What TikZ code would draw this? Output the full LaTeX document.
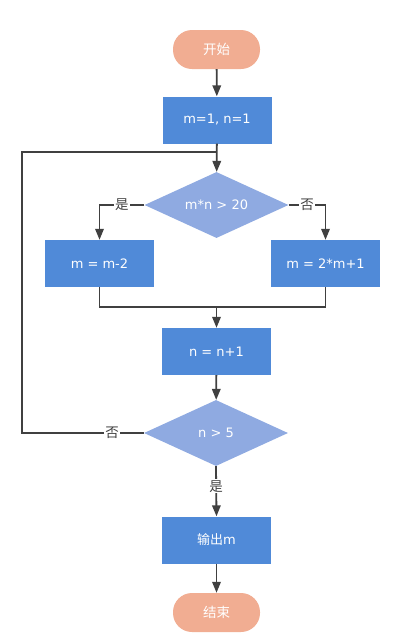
\documentclass[tikz,border=0pt]{standalone}
\usepackage{fontspec}
\setmainfont{DejaVu Sans}
\newfontfamily\cjk{Noto Sans CJK SC}
\usetikzlibrary{shapes.geometric, arrows.meta}
\definecolor{termc}{RGB}{241,173,146}
\definecolor{procc}{RGB}{80,138,216}
\definecolor{condc}{RGB}{143,170,225}
\definecolor{linec}{RGB}{64,64,64}
\tikzset{
  proc/.style={rectangle, fill=procc, text=white, minimum width=109pt, minimum height=47pt, inner sep=0pt},
  term/.style={rectangle, rounded corners=19pt, fill=termc, text=white, minimum width=87pt, minimum height=39pt, inner sep=0pt, font=\cjk\fontsize{13.5}{15}\selectfont},
  cond/.style={diamond, aspect=2.2, fill=condc, text=white, minimum width=144pt, minimum height=66pt, inner sep=0pt},
  lbl/.style={fill=white, text=linec, inner sep=1pt, font=\cjk\fontsize{13.5}{15}\selectfont},
  wire/.style={draw=linec, line width=1.8pt},
  arr/.style={wire, -{Triangle[length=11pt,width=8.5pt]}}
}
\begin{document}
\begin{tikzpicture}[x=1pt, y=-1pt, font=\fontsize{13}{15}\selectfont]
\useasboundingbox (0,0) rectangle (400,641);
% start / end
\node[term] (start) at (216.5,49.5) {开始};
\node[term] (stop) at (216.5,612.5) {结束};
% process boxes
\foreach \n/\x/\y/\t in {init/217/120/{m=1, n=1}, left/99.5/263.5/{m = m-2},
  right/325.5/263.5/{m = 2*m+1}, inc/216.5/351.5/{n = n+1}, out/216.5/540/{{\cjk 输出}m}} {
  \node[proc] (\n) at (\x,\y) {\t};
}
% decisions
\node[cond] (test1) at (216.5,205) {m*n > 20};
\node[cond] (test2) at (216,433) {n > 5};
\coordinate (join) at (216.5,152);
\coordinate (back) at (22,152);
\coordinate (merge) at (216.5,307);
% connectors
\draw[arr] (start) -- (init);
\draw[arr] (init) -- (test1);
\draw[arr] (test1.west) -| node[lbl, pos=0.25] {是} (left.north);
\draw[arr] (test1.east) -| node[lbl, pos=0.25] {否} (right.north);
\draw[wire] (left.south) |- (merge) -| (right.south);
\draw[arr] (merge) -- (inc);
\draw[arr] (inc) -- (test2);
\draw[wire] (test2.west) -| node[lbl, pos=0.13] {否} (back) -- (join);
\draw[arr] (test2.south) -- node[lbl, pos=0.4] {是} (out.north);
\draw[arr] (out) -- (stop);
\end{tikzpicture}
\end{document}
